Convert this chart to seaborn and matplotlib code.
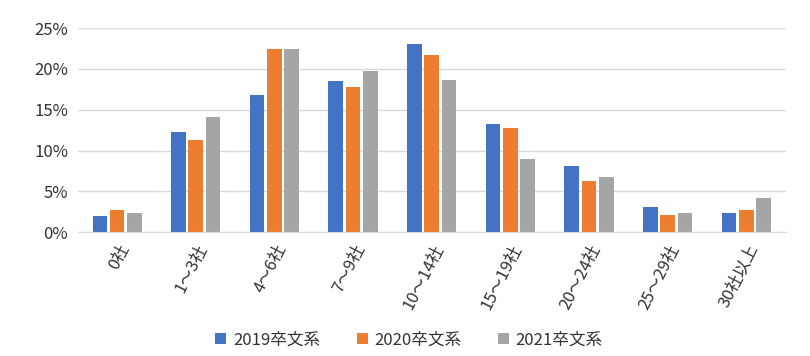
import pandas as pd
import matplotlib.pyplot as plt
import seaborn as sns
from matplotlib.ticker import FuncFormatter

# Categories and series (percent)
categories = ["0社", "1～3社", "4～6社", "7～9社", "10～14社", "15～19社", "20～24社", "25～29社", "30社以上"]
series_names = ["2019卒文系", "2020卒文系", "2021卒文系"]
v2019 = [2.0, 12.3, 16.8, 18.5, 23.1, 13.3, 8.1, 3.1, 2.3]
v2020 = [2.7, 11.3, 22.5, 17.8, 21.7, 12.8, 6.3, 2.1, 2.7]
v2021 = [2.3, 14.1, 22.5, 19.8, 18.6, 9.0, 6.7, 2.3, 4.2]
colors = ["#4472C4", "#ED7D31", "#A5A5A5"]

df = pd.DataFrame({
    "category": categories * 3,
    "series": [s for s in series_names for _ in categories],
    "value": v2019 + v2020 + v2021,
})

sns.set_style("white")
plt.rcParams["font.family"] = ["Noto Sans CJK JP", "DejaVu Sans"]

fig = plt.figure(figsize=(8.1, 3.56), dpi=100)
ax = fig.add_axes([0.096, 0.348, 0.874, 0.573])

sns.barplot(data=df, x="category", y="value", hue="series", order=categories,
            hue_order=series_names, palette=colors, width=0.66, gap=0.16,
            saturation=1, linewidth=0, ax=ax)

ax.set_ylim(0, 25)
ax.set_yticks([0, 5, 10, 15, 20, 25])
ax.yaxis.set_major_formatter(FuncFormatter(lambda v, p: f"{v:.0f}%"))
ax.grid(axis="y", color="#d9d9d9", linewidth=1)
ax.set_axisbelow(True)
for s in ["top", "right", "left"]:
    ax.spines[s].set_visible(False)
ax.spines["bottom"].set_color("#d9d9d9")
ax.set_xlabel("")
ax.set_ylabel("")
ax.tick_params(axis="both", length=0, labelsize=12, colors="#333333", pad=7)
plt.setp(ax.get_xticklabels(), rotation=63, ha="right", rotation_mode="anchor")

handles, labels = ax.get_legend_handles_labels()
ax.legend_.remove()
fig.legend(handles, labels, loc="center", bbox_to_anchor=(0.505, 0.045), ncol=3,
           frameon=False, fontsize=12, handlelength=0.65, handleheight=0.65,
           columnspacing=2.2, handletextpad=0.4, labelcolor="#333333")

fig.savefig("out.png", dpi=100)
